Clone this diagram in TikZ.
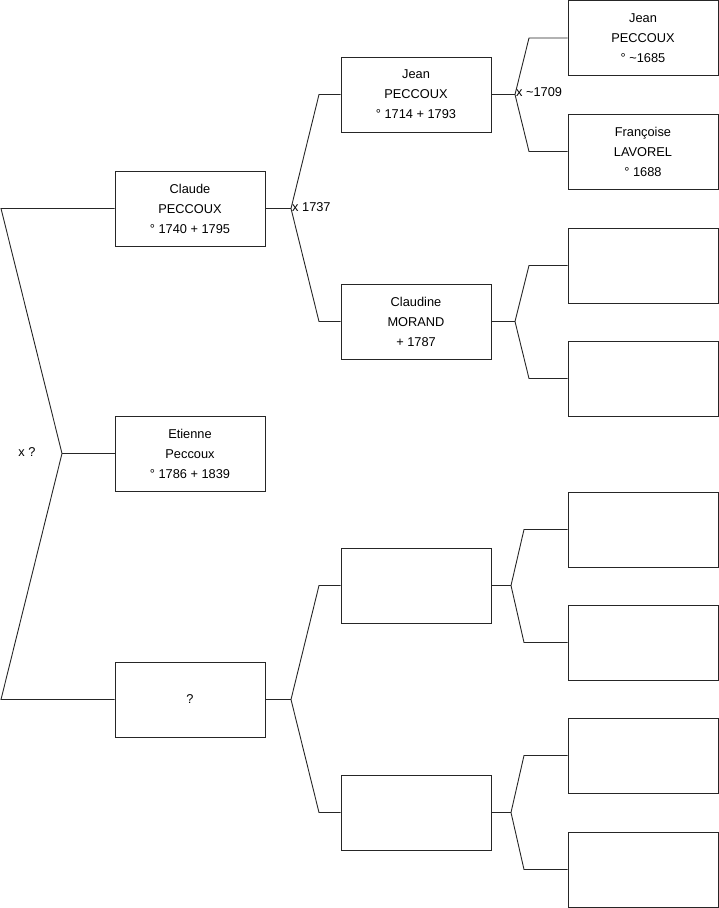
\documentclass[tikz,border=0pt]{standalone}
\usepackage{fontspec}
\setmainfont{Liberation Sans}
\begin{document}
\begin{tikzpicture}[x=1pt,y=-1pt,
  person/.style={draw=black!85, line width=0.9pt, minimum width=150pt, minimum height=75pt,
    inner sep=0pt, align=center, font=\fontsize{12.8}{20}\selectfont},
  link/.style={draw=black!85, line width=0.9pt},
  lab/.style={inner sep=0pt, font=\fontsize{12.8}{15}\selectfont}]
\useasboundingbox (0,0) rectangle (719,908);
% generation 1
\node[person] (claude) at (190,208.5) {Claude\\PECCOUX\\° 1740 + 1795};
\node[person] (etienne) at (190,453.5) {Etienne\\Peccoux\\° 1786 + 1839};
\node[person] (unk) at (190,699.5) {?};
% generation 2
\node[person] (jean1) at (416,94.5) {Jean\\PECCOUX\\° 1714 + 1793};
\node[person] (claudine) at (416,321.5) {Claudine\\MORAND\\+ 1787};
\node[person] (e1) at (416,585.5) {};
\node[person] (e2) at (416,812.5) {};
% generation 3
\node[person] (jean0) at (643,38) {Jean\\PECCOUX\\° \textasciitilde1685};
\node[person] (francoise) at (643,151.5) {Françoise\\LAVOREL\\° 1688};
\node[person] (g3) at (643,265.5) {};
\node[person] (g4) at (643,378.5) {};
\node[person] (g5) at (643,529.5) {};
\node[person] (g6) at (643,642.5) {};
\node[person] (g7) at (643,755.5) {};
\node[person] (g8) at (643,869.5) {};
% junction coordinates
\coordinate (j0) at (62,453.5);
\coordinate (j0a) at (1,208.5);
\coordinate (j0b) at (1,699.5);
\coordinate (j1) at (291,208.5);
\coordinate (j1a) at (319,94.5);
\coordinate (j1b) at (319,321.5);
\coordinate (j2) at (291,699.5);
\coordinate (j2a) at (319,585.5);
\coordinate (j2b) at (319,812.5);
\coordinate (j3) at (515,94.5);
\coordinate (j3a) at (529,38);
\coordinate (j3b) at (529,151.5);
\coordinate (j4) at (515,321.5);
\coordinate (j4a) at (529,265.5);
\coordinate (j4b) at (529,378.5);
\coordinate (j5) at (511,585.5);
\coordinate (j5a) at (524,529.5);
\coordinate (j5b) at (524,642.5);
\coordinate (j6) at (511,812.5);
\coordinate (j6a) at (524,755.5);
\coordinate (j6b) at (524,869.5);
% connectors
\draw[link] (etienne.west) -- (j0);
\draw[link] (j0) -- (j0a) -- (claude.west);
\draw[link] (j0) -- (j0b) -- (unk.west);
\draw[link] (claude.east) -- (j1);
\draw[link] (j1) -- (j1a) -- (jean1.west);
\draw[link] (j1) -- (j1b) -- (claudine.west);
\draw[link] (unk.east) -- (j2);
\draw[link] (j2) -- (j2a) -- (e1.west);
\draw[link] (j2) -- (j2b) -- (e2.west);
\draw[link] (jean1.east) -- (j3);
\draw[link] (j3) -- (j3a) -- (jean0.west);
\draw[link] (j3) -- (j3b) -- (francoise.west);
\draw[link] (claudine.east) -- (j4);
\draw[link] (j4) -- (j4a) -- (g3.west);
\draw[link] (j4) -- (j4b) -- (g4.west);
\draw[link] (e1.east) -- (j5);
\draw[link] (j5) -- (j5a) -- (g5.west);
\draw[link] (j5) -- (j5b) -- (g6.west);
\draw[link] (e2.east) -- (j6);
\draw[link] (j6) -- (j6a) -- (g7.west);
\draw[link] (j6) -- (j6b) -- (g8.west);
% marriage labels
\node[lab] (m0) at (27,452) {x ?};
\node[lab, anchor=west] (m1) at (292,207) {x 1737};
\node[lab, anchor=west] (m3) at (516,92.5) {x \textasciitilde1709};
\end{tikzpicture}
\end{document}
